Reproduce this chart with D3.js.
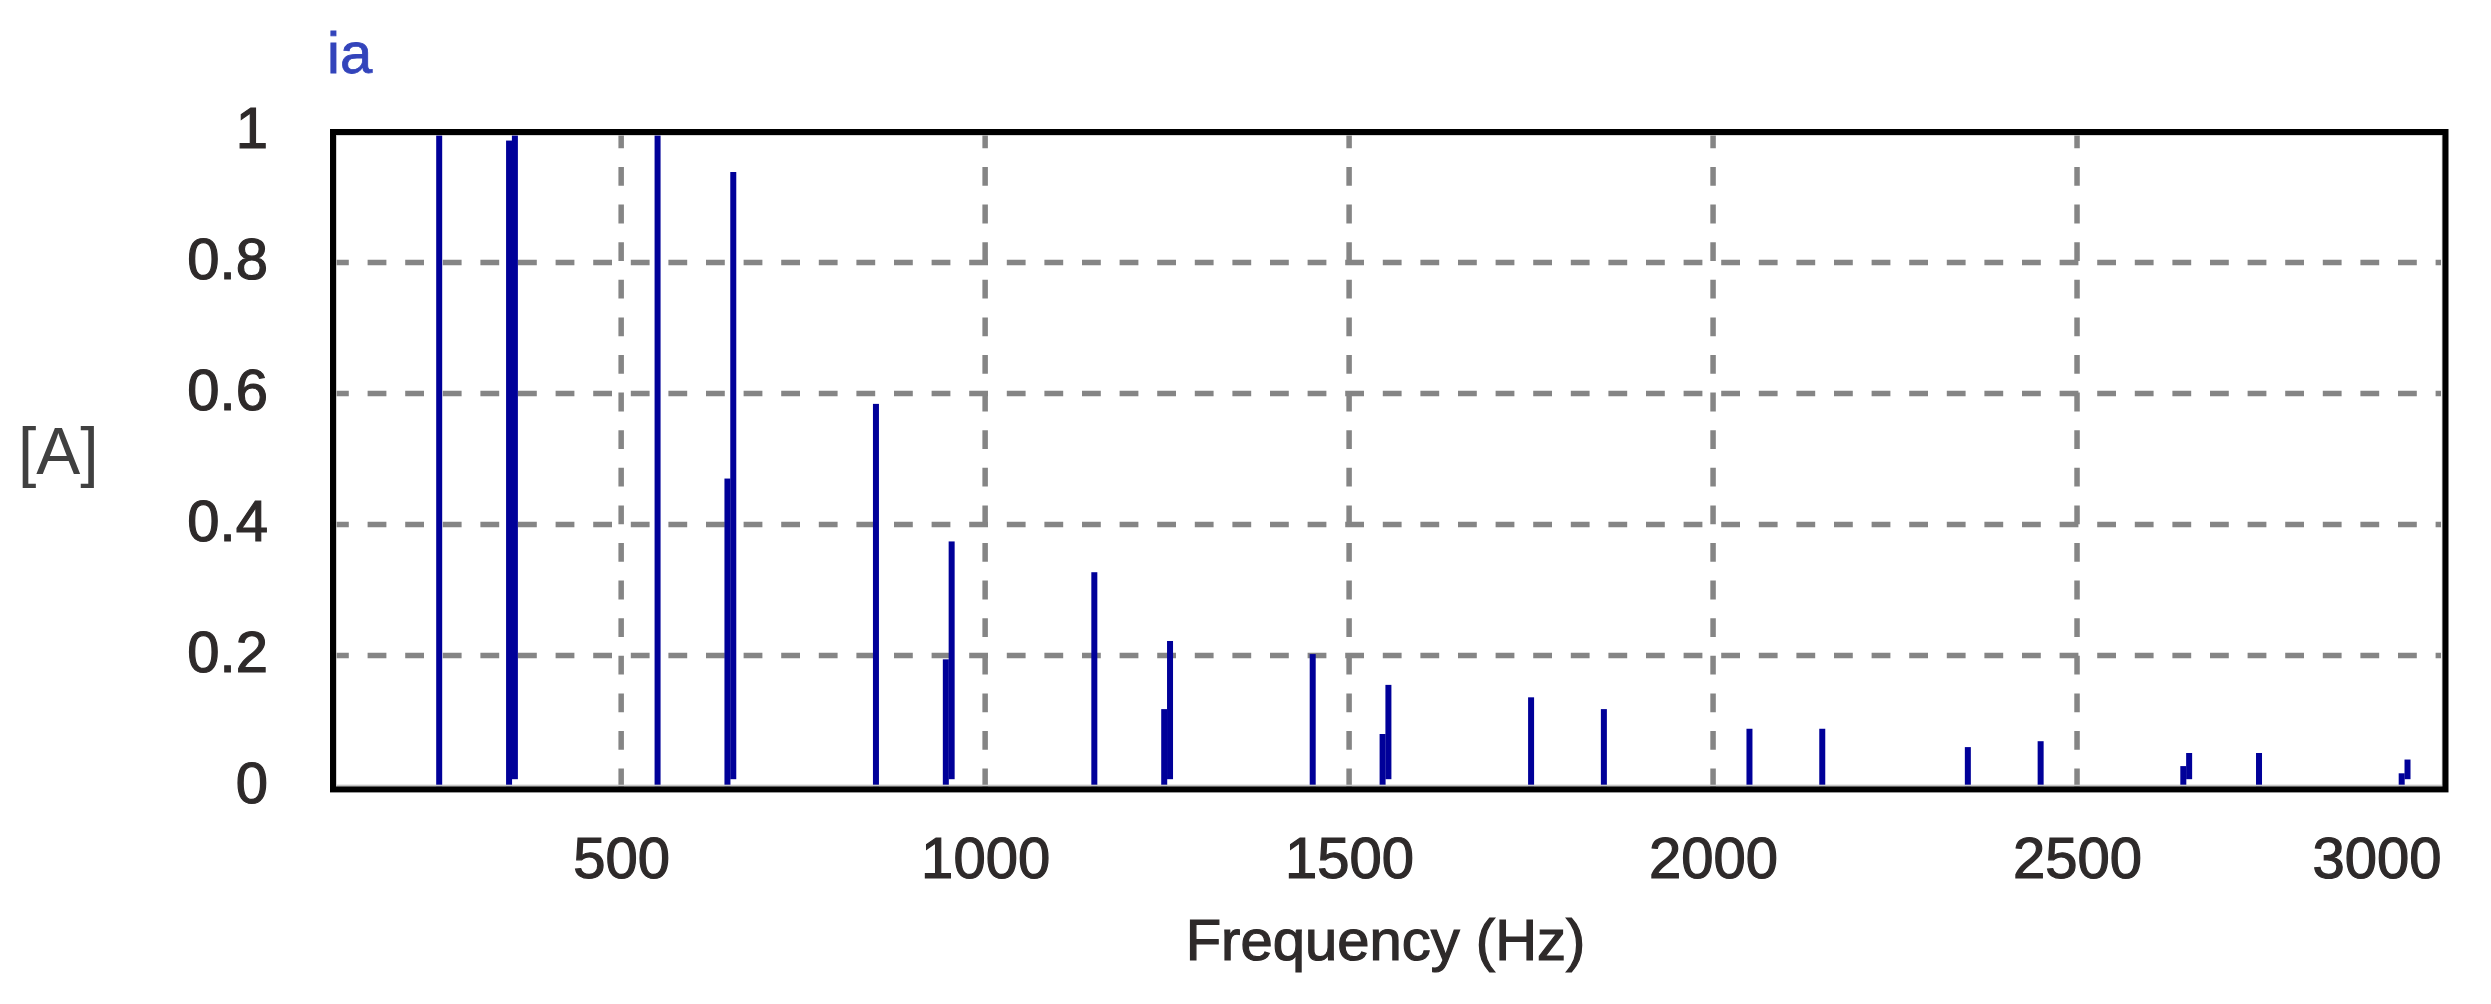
<!DOCTYPE html>
<meta charset="utf-8">
<style>
  body { margin: 0; background: #fff; }
  svg { display: block; font-family: "Liberation Sans", Arial, sans-serif; }
  .tick text, .label { font-size: 58px; fill: #2e2a2a; stroke: #2e2a2a; stroke-width: 1.2; }
  .grid { stroke: #858585; stroke-width: 5.5; stroke-dasharray: 18.8, 18.8; fill: none; }
</style>
<body>
<div id="chart"></div>
<script src="https://d3js.org/d3.v7.min.js"></script>
<script>
  // spectrum lines (Hz) and their magnitudes [A]; paired lines sit either side of the harmonic
  var freqs  = [250, 346, 354, 550, 646, 654, 850, 946, 954, 1150, 1246, 1254, 1450, 1546, 1554,
                1750, 1850, 2050, 2150, 2350, 2450, 2646, 2654, 2750, 2946, 2954];
  var amps   = [1.25, 0.986, 1.3, 1.2, 0.47, 0.938, 0.584, 0.194, 0.374, 0.327, 0.118, 0.222, 0.202, 0.08, 0.155,
                0.136, 0.118, 0.088, 0.088, 0.06, 0.069, 0.031, 0.051, 0.051, 0.02, 0.041];
  var floors = [0, 0, 0.011, 0, 0, 0.011, 0, 0, 0.011, 0, 0, 0.011, 0, 0, 0.011,
                0, 0, 0, 0, 0, 0, 0, 0.011, 0, 0, 0.011];

  var xTicks = [500, 1000, 1500, 2000, 2500, 3000];
  var yTicks = [0, 0.2, 0.4, 0.6, 0.8, 1];
  var xGrid = [500, 1000, 1500, 2000, 2500];
  var yGrid = [0.2, 0.4, 0.6, 0.8];

  var width = 2491, height = 1004;
  var barWidth = 6;

  var x = d3.scaleLinear().domain([100, 3000]).range([330, 2441]);
  var y = d3.scaleLinear().domain([0, 1]).range([786.4, 131.4]);

  var lines = freqs.map(function (f, i) { return {f: f, a: amps[i], b: floors[i]}; });

  var svg = d3.select("#chart").append("svg")
          .attr("width", width)
          .attr("height", height);

  svg.append("defs").append("clipPath").attr("id", "plotclip")
          .append("rect")
          .attr("x", x.range()[0])
          .attr("y", y(1))
          .attr("width", x.range()[1] - x.range()[0])
          .attr("height", y(0) - y(1));

  // dashed grid
  svg.selectAll("line.hgrid").data(yGrid).enter()
          .append("line")
          .attr("class", "grid")
          .attr("x1", x.range()[0]).attr("x2", x.range()[1])
          .attr("y1", function (d) { return y(d); })
          .attr("y2", function (d) { return y(d); });

  svg.selectAll("line.vgrid").data(xGrid).enter()
          .append("line")
          .attr("class", "grid")
          .attr("y1", y(1) - 2).attr("y2", y(0))
          .attr("x1", function (d) { return x(d); })
          .attr("x2", function (d) { return x(d); });

  // spectral lines
  svg.append("g").attr("clip-path", "url(#plotclip)")
          .selectAll("rect.line").data(lines).enter()
          .append("rect")
          .attr("class", "line")
          .attr("fill", "#000099")
          .attr("x", function (d) { return x(d.f) - barWidth / 2; })
          .attr("width", barWidth)
          .attr("y", function (d) { return y(Math.min(d.a, 1.02)); })
          .attr("height", function (d) { return y(d.b) - y(Math.min(d.a, 1.02)); });

  // frame
  svg.append("rect")
          .attr("x", x.range()[0] + 6).attr("y", y(1) + 3.5)
          .attr("width", x.range()[1] - x.range()[0] - 4.5)
          .attr("height", y(0) - y(1) - 4.5)
          .attr("fill", "none").attr("stroke", "#c4c4c4").attr("stroke-width", 1.5);
  svg.append("rect")
          .attr("x", x.range()[0] + 3).attr("y", y(1) + 0.6)
          .attr("width", x.range()[1] - x.range()[0] + 1.5)
          .attr("height", y(0) - y(1) + 2.4)
          .attr("fill", "none").attr("stroke", "#000").attr("stroke-width", 6);

  // axes (labels only)
  var xAxis = svg.append("g")
          .attr("transform", "translate(0,836.8)")
          .call(d3.axisBottom(x).tickValues(xTicks).tickSize(0).tickPadding(0).tickFormat(d3.format("d")));
  xAxis.select(".domain").remove();
  xAxis.selectAll(".tick text").attr("dy", "0.71em")
          .filter(function (d) { return d === 3000; })
          .attr("text-anchor", "end");

  var yAxis = svg.append("g")
          .attr("transform", "translate(268,0)")
          .call(d3.axisLeft(y).tickValues(yTicks).tickSize(0).tickPadding(0)
                  .tickFormat(function (d) { return d3.format("~g")(d); }));
  yAxis.select(".domain").remove();
  yAxis.selectAll(".tick text").attr("dy", "0.276em");

  // titles
  svg.append("text")
          .attr("x", 327).attr("y", 73)
          .attr("font-size", 58)
          .attr("fill", "#3344bb")
          .attr("stroke", "#3344bb").attr("stroke-width", 0.8)
          .text("ia");

  svg.append("text")
          .attr("x", 18).attr("y", 474)
          .attr("font-size", 66)
          .attr("fill", "#404040")
          .text("[A]");

  svg.append("text")
          .attr("class", "label")
          .attr("x", (x.range()[0] + x.range()[1]) / 2).attr("y", 960)
          .attr("text-anchor", "middle")
          .text("Frequency (Hz)");
</script>
</body>
